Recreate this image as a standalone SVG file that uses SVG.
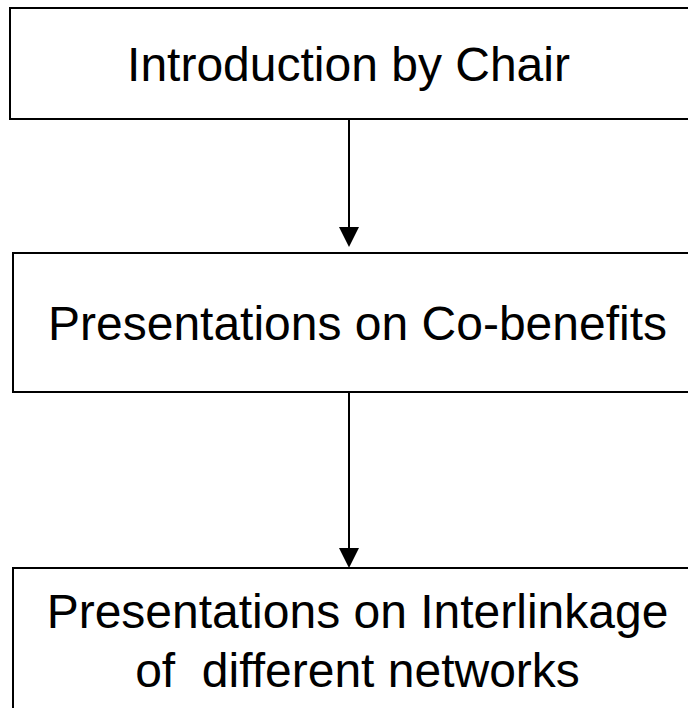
<svg xmlns="http://www.w3.org/2000/svg" width="688" height="708" viewBox="0 0 688 708">
  <style>
    .box { fill: #ffffff; stroke: #000000; stroke-width: 2; }
    .label { font-family: "Liberation Sans", Arial, sans-serif; font-size: 48px; fill: #000000; text-anchor: middle; }
    .conn { stroke: #000000; stroke-width: 2; fill: none; }
  </style>
  <rect x="0" y="0" width="688" height="708" fill="#ffffff"/>
  <g id="node-intro">
    <rect class="box" x="10" y="8" width="682" height="111"/>
    <text class="label" x="348.5" y="81">Introduction by Chair</text>
  </g>
  <g id="node-cobenefits">
    <rect class="box" x="13" y="253" width="690" height="139"/>
    <text class="label" x="357.5" y="340">Presentations on Co-benefits</text>
  </g>
  <g id="node-interlinkage">
    <rect class="box" x="13" y="568" width="690" height="160"/>
    <text class="label" x="357.5" y="628">Presentations on Interlinkage</text>
    <text class="label" x="357.5" y="687" xml:space="preserve">of  different networks</text>
  </g>
  <g id="connectors">
    <line class="conn" x1="349" y1="120" x2="349" y2="228"/>
    <path d="M339,227 L359,227 L349,247 Z" fill="#000000"/>
    <line class="conn" x1="349" y1="393" x2="349" y2="549"/>
    <path d="M339,548 L359,548 L349,568 Z" fill="#000000"/>
  </g>
</svg>
